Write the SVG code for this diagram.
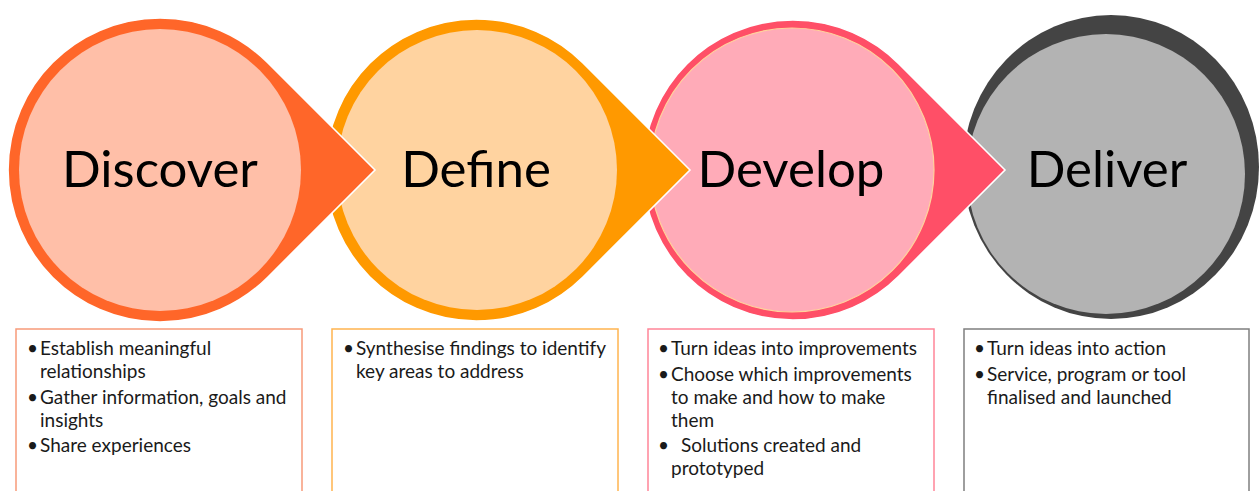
<svg xmlns="http://www.w3.org/2000/svg" width="1259" height="491" viewBox="0 0 1259 491">
  <style>
    .title { font-family: Lato, "Open Sans", "Liberation Sans", sans-serif; font-size: 51px; fill: #000; text-anchor: middle; }
    .body { font-family: Lato, "Open Sans", "Liberation Sans", sans-serif; font-size: 19px; fill: #1a1a1a; }
    .drop { stroke: #ffffff; stroke-width: 1.6; stroke-linejoin: miter; }
    .box { fill: #ffffff; stroke-width: 1.5; }
  </style>
  <rect width="1259" height="491" fill="#ffffff"/>

  <!-- Stages are painted right to left so each pointer overlaps the next circle -->
  <g id="stage-deliver">
    <ellipse cx="1111" cy="167" rx="148" ry="152" fill="#444444"/>
    <ellipse cx="1106" cy="174" rx="139" ry="140" fill="#b3b3b3"/>
    <text class="title" x="1107" y="187">Deliver</text>
  </g>

  <g id="stage-develop">
    <!-- teardrop: circle r=150 at (793,170), tip at (1005,170) -->
    <path class="drop" fill="#ff4f67" d="M1005 170 L899 64 A150 150 0 1 0 899 276 Z"/>
    <circle cx="792" cy="170" r="142" fill="#ffabb8" stroke="#ffd29c" stroke-width="1.2"/>
    <text class="title" x="791" y="187">Develop</text>
  </g>

  <g id="stage-define">
    <path class="drop" fill="#ff9900" d="M690 170 L583 63 A151 151 0 1 0 583 277 Z"/>
    <circle cx="477" cy="170" r="140" fill="#ffd3a0"/>
    <text class="title" x="476" y="187">Define</text>
  </g>

  <g id="stage-discover">
    <path class="drop" fill="#ff6629" d="M375 170 L267.5 62.5 A152 152 0 1 0 267.5 277.5 Z"/>
    <circle cx="160" cy="170" r="141" fill="#ffbfa8"/>
    <text class="title" x="160" y="187">Discover</text>
  </g>

  <!-- Description boxes under each stage -->
  <g id="box-discover">
    <rect class="box" x="16" y="329" width="286" height="180" stroke="#f79a7a"/>
    <text class="body">
      <tspan x="27" y="355">•</tspan><tspan x="40" y="355">Establish meaningful</tspan>
      <tspan x="40" y="378">relationships</tspan>
      <tspan x="27" y="404">•</tspan><tspan x="40" y="404">Gather information, goals and</tspan>
      <tspan x="40" y="427">insights</tspan>
      <tspan x="27" y="452">•</tspan><tspan x="40" y="452">Share experiences</tspan>
    </text>
  </g>

  <g id="box-define">
    <rect class="box" x="332" y="329" width="286" height="180" stroke="#ffb44f"/>
    <text class="body">
      <tspan x="343" y="355">•</tspan><tspan x="356" y="355">Synthesise findings to identify</tspan>
      <tspan x="356" y="378">key areas to address</tspan>
    </text>
  </g>

  <g id="box-develop">
    <rect class="box" x="648" y="329" width="286" height="180" stroke="#ff8598"/>
    <text class="body">
      <tspan x="658" y="355">•</tspan><tspan x="671" y="355">Turn ideas into improvements</tspan>
      <tspan x="658" y="381">•</tspan><tspan x="671" y="381">Choose which improvements</tspan>
      <tspan x="671" y="404">to make and how to make</tspan>
      <tspan x="671" y="427">them</tspan>
      <tspan x="658" y="452">•</tspan><tspan x="681" y="452">Solutions created and</tspan>
      <tspan x="671" y="475">prototyped</tspan>
    </text>
  </g>

  <g id="box-deliver">
    <rect class="box" x="964" y="329" width="285" height="180" stroke="#7f7f7f"/>
    <text class="body">
      <tspan x="974" y="355">•</tspan><tspan x="987" y="355">Turn ideas into action</tspan>
      <tspan x="974" y="381">•</tspan><tspan x="987" y="381">Service, program or tool</tspan>
      <tspan x="987" y="404">finalised and launched</tspan>
    </text>
  </g>

  <g id="connectors"></g>
</svg>
